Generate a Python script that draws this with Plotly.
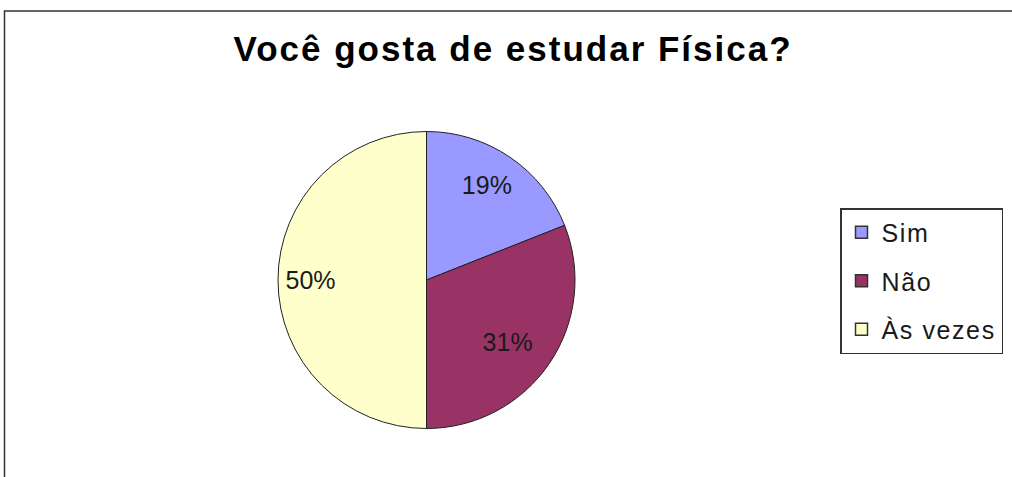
import plotly.graph_objects as go

labels = ["Sim", "Não", "Às vezes"]
values = [19, 31, 50]
colors = ["#9999FF", "#993366", "#FFFFCC"]
title_text = "Você gosta de estudar Física?"

W, H = 1012, 477
FONT = "Liberation Sans, Arial, sans-serif"
NB = "\u00a0"

# per-slice label templates (padding nudges the label toward the rim like the original)
label_templates = [
    NB * 2 + "%{percent:.0%}<br>" + NB,
    NB + "<br>" + NB * 4 + "%{percent:.0%}",
    "%{percent:.0%}" + NB * 12,
]

fig = go.Figure()
fig.add_trace(go.Pie(
    labels=labels, values=values, sort=False, direction="clockwise", rotation=0,
    marker=dict(colors=colors, line=dict(color="#222222", width=1)),
    texttemplate=label_templates, textposition="inside", insidetextorientation="horizontal",
    textfont=dict(family=FONT, size=25, color="#1a1a1a"),
    domain=dict(x=[278 / W, 575 / W], y=[1 - 429 / H, 1 - 131 / H]),
    showlegend=False, hoverinfo="label+percent",
))

# legend entries drawn as marker-only traces so the entry spacing can match
for i, (lab, col) in enumerate(zip(labels, colors)):
    fig.add_trace(go.Scatter(
        x=[None], y=[None], mode="markers",
        name=f'<span style="letter-spacing:1.6px">{lab}</span>', legendgroup=f"g{i}",
        marker=dict(symbol="square", size=12, color=col, line=dict(color="#333333", width=1.5)),
        showlegend=True,
    ))

fig.update_layout(
    width=W, height=H, margin=dict(l=0, r=0, t=0, b=0),
    paper_bgcolor="white", plot_bgcolor="white",
    xaxis=dict(visible=False), yaxis=dict(visible=False),
    title=dict(text=f'<b><span style="letter-spacing:2px">{title_text}</span></b>',
               x=513 / W, xanchor="center", y=1 - 49 / H, yanchor="middle",
               font=dict(family=FONT, size=35, color="black")),
    legend=dict(x=840 / W, y=1 - 208 / H, xanchor="left", yanchor="top",
                bgcolor="white", bordercolor="#333333", borderwidth=1.5,
                font=dict(family=FONT, size=25, color="#1a1a1a"),
                tracegroupgap=13, itemsizing="trace"),
    shapes=[dict(type="rect", xref="paper", yref="paper", x0=4.5 / W, x1=1.02, y0=-0.02, y1=1 - 11 / H,
                 line=dict(color="#333333", width=1.5), fillcolor="rgba(0,0,0,0)", layer="below")],
)

fig.write_html("out.html")
